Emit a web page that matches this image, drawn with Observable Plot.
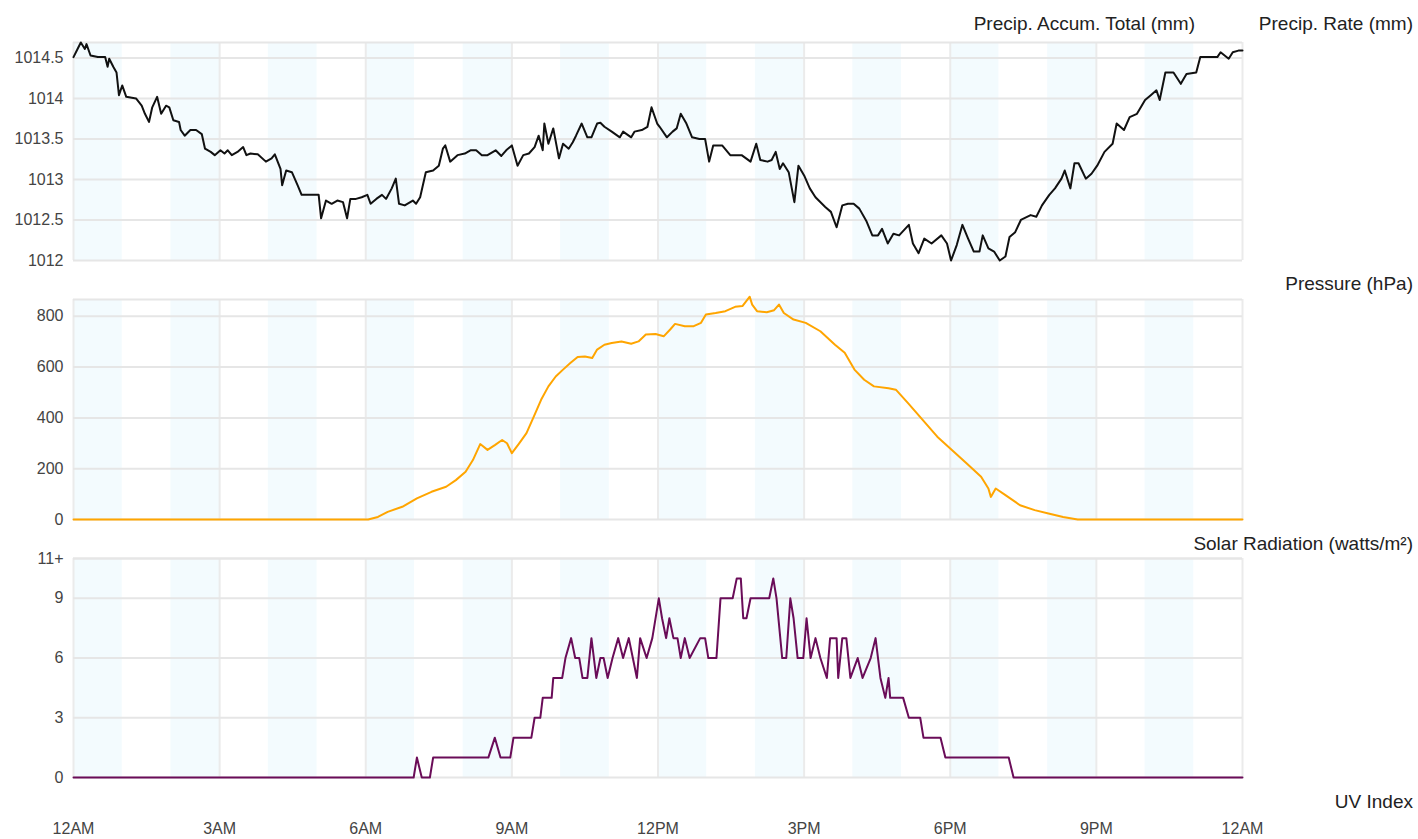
<!DOCTYPE html>
<html><head><meta charset="utf-8">
<script src="https://cdn.jsdelivr.net/npm/d3@7"></script>
<script src="https://cdn.jsdelivr.net/npm/@observablehq/plot@0.6"></script>
<style>
body{margin:0;background:#fff;font-family:"Liberation Sans",Arial,sans-serif;}
#wrap{position:relative;width:1418px;height:839px;overflow:hidden;background:#fff}
.lbl{position:absolute;font-size:19px;color:#222;white-space:nowrap;line-height:1}
.panel{position:absolute;left:0}
</style></head><body><div id="wrap"></div>
<script>
// ---- data (time in minutes after midnight) ----
const xTickMinutes = [0,180,360,540,720,900,1080,1260,1440];
const xTickLabels = ["12AM","3AM","6AM","9AM","12PM","3PM","6PM","9PM","12AM"];
const shadedHours = [0,2,4,6,8,10,12,14,16,18,20,22];

const pressureTicks = [1012,1012.5,1013,1013.5,1014,1014.5];
const pressureTickLabels = ["1012","1012.5","1013","1013.5","1014","1014.5"];
const solarTicks = [0,200,400,600,800];
const solarTickLabels = ["0","200","400","600","800"];
const uvTicks = [0,3,6,9,11];
const uvTickLabels = ["0","3","6","9","11+"];

const pressureReadings = [[0,1014.51],[5,1014.61],[9,1014.69],[14,1014.61],[16,1014.67],[21,1014.53],[30,1014.51],[39,1014.51],[42,1014.39],[44,1014.49],[49,1014.39],[53,1014.32],[56,1014.04],[60,1014.16],[65,1014.02],[77,1014.00],[84,1013.91],[88,1013.81],[93,1013.71],[97,1013.89],[103,1014.02],[108,1013.81],[114,1013.91],[118,1013.89],[123,1013.73],[130,1013.71],[132,1013.61],[137,1013.54],[144,1013.61],[151,1013.61],[158,1013.56],[162,1013.38],[169,1013.34],[174,1013.30],[181,1013.36],[186,1013.32],[190,1013.36],[195,1013.30],[202,1013.34],[209,1013.40],[213,1013.30],[218,1013.32],[227,1013.31],[237,1013.22],[244,1013.26],[248,1013.31],[255,1013.13],[257,1012.93],[262,1013.11],[269,1013.09],[276,1012.93],[281,1012.81],[290,1012.81],[302,1012.81],[305,1012.52],[311,1012.74],[318,1012.70],[325,1012.74],[332,1012.72],[337,1012.52],[341,1012.76],[348,1012.76],[355,1012.78],[362,1012.81],[366,1012.70],[373,1012.76],[380,1012.81],[385,1012.76],[392,1012.89],[397,1013.01],[401,1012.70],[408,1012.68],[418,1012.74],[422,1012.70],[427,1012.78],[434,1013.09],[443,1013.11],[450,1013.17],[455,1013.38],[458,1013.42],[464,1013.22],[473,1013.30],[482,1013.32],[489,1013.36],[496,1013.36],[503,1013.30],[510,1013.30],[520,1013.36],[527,1013.29],[533,1013.36],[540,1013.42],[547,1013.17],[554,1013.30],[561,1013.32],[568,1013.40],[573,1013.54],[578,1013.36],[580,1013.69],[585,1013.44],[591,1013.63],[598,1013.26],[603,1013.44],[610,1013.38],[615,1013.46],[619,1013.54],[626,1013.69],[633,1013.52],[638,1013.52],[645,1013.69],[649,1013.70],[654,1013.65],[663,1013.59],[673,1013.52],[677,1013.59],[687,1013.52],[691,1013.59],[700,1013.61],[707,1013.65],[712,1013.89],[719,1013.69],[722,1013.65],[731,1013.52],[738,1013.59],[743,1013.63],[748,1013.81],[755,1013.69],[762,1013.52],[771,1013.50],[778,1013.50],[783,1013.22],[788,1013.42],[799,1013.42],[809,1013.30],[823,1013.30],[834,1013.22],[841,1013.44],[846,1013.24],[855,1013.22],[860,1013.24],[865,1013.34],[870,1013.13],[874,1013.20],[881,1013.09],[888,1012.72],[893,1013.17],[900,1013.05],[907,1012.89],[914,1012.78],[926,1012.66],[933,1012.60],[940,1012.41],[947,1012.68],[954,1012.70],[961,1012.70],[968,1012.64],[977,1012.48],[984,1012.31],[991,1012.31],[996,1012.39],[1003,1012.21],[1010,1012.33],[1017,1012.31],[1029,1012.44],[1034,1012.21],[1041,1012.09],[1048,1012.27],[1057,1012.21],[1069,1012.31],[1076,1012.21],[1081,1012.00],[1088,1012.19],[1095,1012.44],[1102,1012.27],[1109,1012.11],[1116,1012.11],[1120,1012.31],[1127,1012.15],[1134,1012.11],[1141,1012.00],[1148,1012.05],[1153,1012.29],[1160,1012.35],[1167,1012.50],[1179,1012.56],[1186,1012.54],[1193,1012.68],[1202,1012.81],[1209,1012.89],[1217,1013.01],[1221,1013.11],[1228,1012.89],[1233,1013.20],[1238,1013.20],[1247,1013.01],[1254,1013.07],[1261,1013.17],[1270,1013.34],[1280,1013.44],[1285,1013.69],[1294,1013.61],[1301,1013.77],[1310,1013.81],[1320,1013.98],[1327,1014.04],[1334,1014.10],[1338,1013.98],[1345,1014.32],[1355,1014.32],[1364,1014.18],[1371,1014.30],[1383,1014.32],[1388,1014.51],[1397,1014.51],[1409,1014.51],[1413,1014.57],[1423,1014.49],[1428,1014.57],[1435,1014.59],[1440,1014.59]];

const solarReadings = [[0,0],[363,0],[375,10],[387,30],[405,50],[423,83],[441,109],[459,129],[471,155],[483,188],[492,234],[501,297],[510,274],[519,293],[528,313],[534,300],[540,261],[549,300],[558,340],[567,405],[576,471],[585,524],[594,563],[603,590],[612,616],[621,640],[630,642],[639,636],[645,669],[654,688],[663,695],[675,701],[687,692],[696,701],[705,728],[717,730],[727,721],[735,748],[741,770],[753,761],[764,761],[773,774],[779,807],[791,813],[803,820],[815,837],[824,840],[833,877],[836,846],[842,820],[854,816],[863,824],[869,846],[875,813],[887,787],[902,774],[920,741],[938,688],[950,656],[962,590],[974,550],[986,524],[1004,517],[1013,511],[1028,458],[1046,392],[1064,326],[1082,274],[1100,221],[1118,168],[1127,122],[1130,89],[1136,122],[1148,96],[1166,56],[1184,37],[1201,24],[1219,10],[1237,0],[1440,0]];

const uvReadings = [[0,0],[419,0],[423,1],[429,0],[439,0],[443,1],[452,1],[511,1],[519,2],[526,1],[538,1],[542,2],[564,2],[568,3],[575,3],[578,4],[589,4],[591,5],[602,5],[606,6],[613,7],[618,6],[623,6],[627,5],[633,5],[638,7],[644,5],[649,6],[653,6],[658,5],[664,6],[671,7],[677,6],[684,7],[689,6],[694,5],[698,7],[706,6],[713,7],[721,9],[725,8],[730,7],[734,8],[739,7],[744,7],[748,6],[753,7],[759,6],[772,7],[778,7],[782,6],[792,6],[797,9],[812,9],[817,10],[822,10],[825,8],[829,8],[834,9],[857,9],[862,10],[866,9],[873,6],[878,6],[883,9],[887,8],[892,6],[899,6],[903,8],[908,6],[914,7],[920,6],[928,5],[932,7],[940,7],[942,5],[947,7],[952,7],[957,5],[966,6],[972,5],[982,6],[988,7],[994,5],[1000,4],[1004,5],[1006,4],[1013,4],[1022,4],[1029,3],[1043,3],[1047,2],[1068,2],[1074,1],[1152,1],[1158,0],[1440,0]];

// ---- drawing ----
const wrap = document.getElementById("wrap");
const FONT = "'Liberation Sans', Arial, sans-serif";
const GRID = "#e6e6e6";

function panel({readings, yDomain, ticks, tickLabels, color, top, plotH, showX}) {
  const labelOf = new Map(ticks.map((t, i) => [t, tickLabels[i]]));
  const marginBottom = showX ? 62 : 10;
  const marks = [
    Plot.rect(shadedHours, {x1: d => d * 60, x2: d => (d + 1) * 60, fill: "#f3fbfe"}),
    Plot.ruleX(xTickMinutes, {stroke: "#ebebeb", strokeWidth: 2}),
    Plot.ruleY([...ticks, yDomain[1]], {stroke: GRID, strokeWidth: 2}),
    Plot.axisY(ticks, {tickSize: 0, tickPadding: 10, tickFormat: d => labelOf.get(d), fontSize: 16, fill: "#444"}),
    Plot.line(readings, {x: d => d[0], y: d => d[1], stroke: color, strokeWidth: 2, strokeLinejoin: "round"})
  ];
  if (showX) {
    const xl = new Map(xTickMinutes.map((t, i) => [t, xTickLabels[i]]));
    marks.push(Plot.axisX(xTickMinutes, {tickSize: 0, tickPadding: 45, tickFormat: d => xl.get(d), fontSize: 16, fill: "#444"}));
  }
  const svg = Plot.plot({
    width: 1418,
    height: 10 + plotH + marginBottom,
    marginLeft: 73, marginRight: 176, marginTop: 10, marginBottom,
    x: {domain: [0, 1440], axis: null},
    y: {domain: yDomain, axis: null},
    style: {fontFamily: FONT, fontSize: "16px", color: "#444", background: "transparent", overflow: "visible"},
    marks
  });
  svg.classList.add("panel");
  svg.style.top = (top - 10) + "px";
  wrap.appendChild(svg);
}

panel({readings: pressureReadings, yDomain: [1012, 1014.69], ticks: pressureTicks, tickLabels: pressureTickLabels, color: "#111", top: 42, plotH: 218});
panel({readings: solarReadings, yDomain: [0, 866], ticks: solarTicks, tickLabels: solarTickLabels, color: "#ffa500", top: 299, plotH: 220});
panel({readings: uvReadings, yDomain: [0, 11], ticks: uvTicks, tickLabels: uvTickLabels, color: "#6a0c58", top: 558, plotH: 219, showX: true});

function label(text, right, top) {
  const d = document.createElement("div");
  d.className = "lbl";
  d.textContent = text;
  d.style.right = right + "px";
  d.style.top = top + "px";
  wrap.appendChild(d);
}
label("Precip. Accum. Total (mm)", 223, 14);
label("Precip. Rate (mm)", 5, 14);
label("Pressure (hPa)", 5, 274);
label("Solar Radiation (watts/m²)", 5, 534);
label("UV Index", 5, 792);
</script>
</body></html>
